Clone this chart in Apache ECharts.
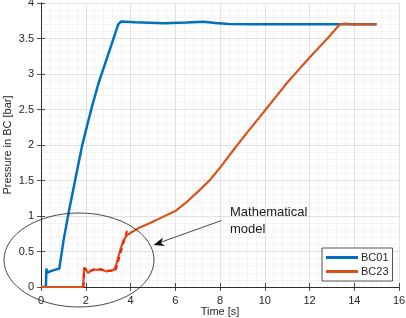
<!DOCTYPE html>
<html>
<head>
<meta charset="utf-8">
<script src="https://cdn.jsdelivr.net/npm/echarts@6/dist/echarts.min.js"></script>
<style>html,body{margin:0;padding:0;background:#fff}#c{width:406px;height:318px}</style>
</head>
<body>
<div id="c"></div>
<script>
var xTicks = [0, 2, 4, 6, 8, 10, 12, 14, 16];
var yTicks = [0, 0.5, 1, 1.5, 2, 2.5, 3, 3.5, 4];
var bc01 = [[0,0],[0.22,0],[0.24,0.26],[0.28,0.2],[0.4,0.22],[0.82,0.26],[1.01,0.66],[1.23,1.04],[1.53,1.51],[1.83,1.98],[2.05,2.26],[2.28,2.54],[2.57,2.87],[2.87,3.15],[3.17,3.43],[3.45,3.7],[3.58,3.74],[4.2,3.73],[5.5,3.715],[6.5,3.725],[7.25,3.735],[7.8,3.72],[8.4,3.705],[9.5,3.70],[15,3.70]];
var bc23 = [[0,0],[1.88,0],[1.93,0.27],[2.0,0.25],[2.1,0.2],[2.2,0.22],[2.35,0.25],[2.5,0.24],[2.7,0.25],[2.9,0.22],[3.1,0.23],[3.25,0.24],[3.35,0.3],[3.45,0.42],[3.54,0.52],[3.69,0.66],[3.85,0.73],[3.99,0.76],[4.36,0.83],[4.88,0.9],[5.33,0.97],[6.0,1.07],[6.52,1.2],[7.04,1.35],[7.56,1.51],[8.1,1.72],[8.6,1.93],[9.2,2.17],[9.79,2.40],[10.4,2.64],[10.98,2.87],[11.6,3.09],[12.17,3.29],[12.8,3.5],[13.36,3.70],[13.6,3.71],[14,3.70],[15,3.70]];
var model = [[1.9,0],[1.93,0.27],[2.0,0.25],[2.12,0.21],[2.3,0.24],[2.6,0.25],[2.9,0.23],[3.2,0.23],[3.32,0.22],[3.85,0.8]];
var seriesNames = ['BC01', 'BC23', 'Mathematical model'];
var annotationLines = ['Mathematical', 'model'];

var chart = echarts.init(document.getElementById('c'), null, {renderer: 'canvas'});
var FONT = 'Liberation Sans, Arial, sans-serif';
var axisCol = '#262626';
function baseAxis(extra) {
  return Object.assign({
    type: 'value',
    axisLine: {show: true, lineStyle: {color: axisCol, width: 0.8}},
    axisTick: {show: true, inside: true, length: 4, lineStyle: {color: axisCol, width: 0.8}},
    minorTick: {show: false},
    splitLine: {show: false},
    minorSplitLine: {show: false}
  }, extra);
}
chart.setOption({
  animation: false,
  backgroundColor: '#fff',
  grid: {left: 41, right: 7, top: 3, bottom: 31, containLabel: false, outerBoundsMode: 'none'},
  xAxis: [
    baseAxis({min: xTicks[0], max: xTicks[xTicks.length-1], interval: 2, position: 'bottom',
      name: 'Time [s]', nameLocation: 'middle', nameGap: 19, nameMoveOverlap: false,
      nameTextStyle: {fontFamily: FONT, fontSize: 11, color: axisCol},
      axisLabel: {fontFamily: FONT, fontSize: 11, color: axisCol, margin: 8},
      splitLine: {show: true, lineStyle: {color: '#d9d9d9', width: 0.8}},
      minorTick: {show: true, splitNumber: 5, length: 0},
      minorSplitLine: {show: true, lineStyle: {color: '#ececec', width: 0.6}}
    }),
    baseAxis({min: 0, max: 16, interval: 2, position: 'top', axisLabel: {show: false}})
  ],
  yAxis: [
    baseAxis({min: yTicks[0], max: yTicks[yTicks.length-1], interval: 0.5, position: 'left',
      name: 'Pressure in BC [bar]', nameLocation: 'middle', nameGap: 28, nameMoveOverlap: false,
      nameTextStyle: {fontFamily: FONT, fontSize: 11, color: axisCol},
      axisLabel: {fontFamily: FONT, fontSize: 11, color: axisCol, margin: 7},
      splitLine: {show: true, lineStyle: {color: '#d9d9d9', width: 0.8}},
      minorTick: {show: true, splitNumber: 5, length: 0},
      minorSplitLine: {show: true, lineStyle: {color: '#ececec', width: 0.6}}
    }),
    baseAxis({min: 0, max: 4, interval: 0.5, position: 'right', axisLabel: {show: false}})
  ],
  legend: {
    data: [seriesNames[0], seriesNames[1]],
    orient: 'vertical', left: 322, top: 248,
    backgroundColor: '#fff', borderColor: axisCol, borderWidth: 0.8,
    padding: [4, 4, 4, 4], itemGap: 3, itemWidth: 32, itemHeight: 3, icon: 'rect',
    textStyle: {fontFamily: FONT, fontSize: 11, color: axisCol, padding: [0,0,0,-2]}
  },
  series: [
    {name: seriesNames[0], type: 'line', data: bc01, showSymbol: false, symbol: 'none', color: '#0072BD',
      lineStyle: {width: 2.5, color: '#0072BD'}, z: 3},
    {name: seriesNames[1], type: 'line', data: bc23, showSymbol: false, symbol: 'none', color: '#D95319',
      lineStyle: {width: 2.2, color: '#D95319'}, z: 4},
    {name: seriesNames[2], type: 'line', data: model, showSymbol: false, symbol: 'none', color: '#FF0000',
      lineStyle: {width: 2, color: '#FF1A00', type: [5, 4]}, z: 5}
  ],
  graphic: [
    {type: 'ellipse', shape: {cx: 79, cy: 260, rx: 75, ry: 47}, style: {fill: 'none', stroke: '#333', lineWidth: 0.9}, z: 10},
    {type: 'line', shape: {x1: 221.5, y1: 220.5, x2: 160, y2: 242.5}, style: {stroke: '#333', lineWidth: 0.9}, z: 10},
    {type: 'polygon', shape: {points: [[153.5, 245], [163, 237.5], [161, 243], [165, 246]]}, style: {fill: '#111'}, z: 10},
    {type: 'text', left: 230, top: 204, style: {text: annotationLines.join('\n'), font: '13px Liberation Sans, Arial, sans-serif', fill: '#1a1a1a', lineHeight: 17}, z: 10}
  ]
});
</script>
</body>
</html>
